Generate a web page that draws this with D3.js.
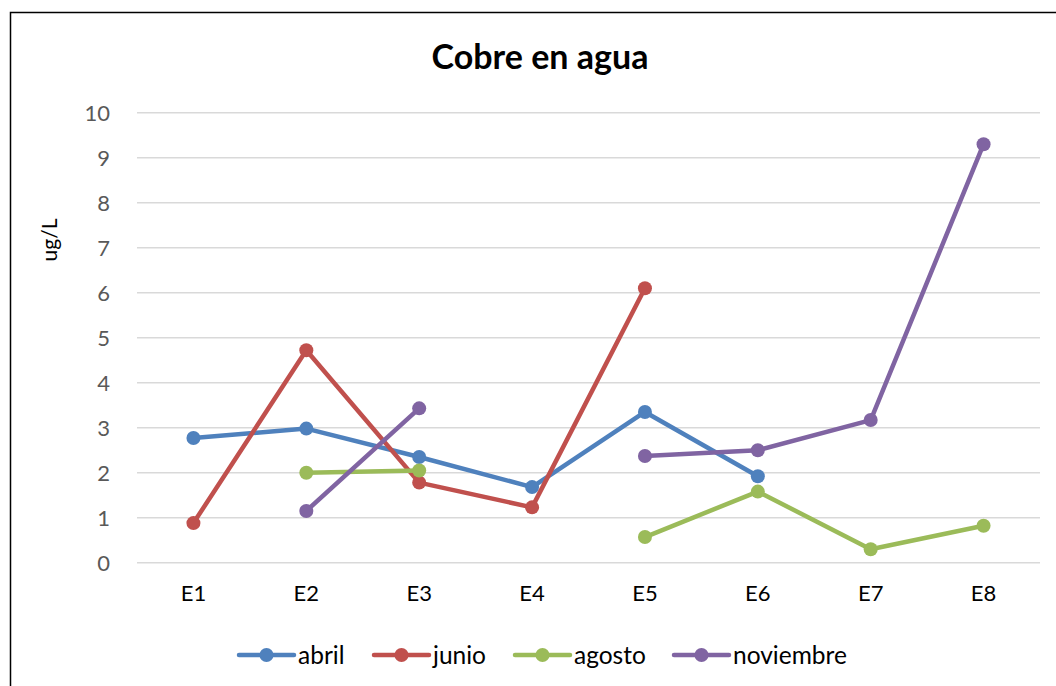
<!DOCTYPE html>
<html>
<head>
<meta charset="utf-8">
<script src="https://cdn.jsdelivr.net/npm/d3@7"></script>
<style>
  body { margin: 0; background: #fff; }
  text { font-family: Lato, "Open Sans", sans-serif; }
</style>
</head>
<body>
<div id="chart"></div>
<script>
var stations = ["E1", "E2", "E3", "E4", "E5", "E6", "E7", "E8"];
var seriesNames = ["abril", "junio", "agosto", "noviembre"];
var abril = [2.77, 2.98, 2.35, 1.68, 3.35, 1.92, null, null];
var junio = [0.88, 4.72, 1.78, 1.23, 6.1, null, null, null];
var agosto = [null, 2.0, 2.05, null, 0.57, 1.58, 0.3, 0.82];
var noviembre = [null, 1.15, 3.43, null, 2.37, 2.5, 3.17, 9.3];
var yTicks = [0, 1, 2, 3, 4, 5, 6, 7, 8, 9, 10];
var colors = ["#4F81BD", "#C0504D", "#9BBB59", "#8064A2"];

var series = [abril, junio, agosto, noviembre];

var svgWidth = 1056;
var svgHeight = 686;

var svg = d3.select("#chart")
    .append("svg")
    .attr("width", svgWidth)
    .attr("height", svgHeight);

// outer frame (runs off the right and bottom edges)
svg.append("rect")
    .attr("x", 10.5)
    .attr("y", 12.5)
    .attr("width", 1100)
    .attr("height", 700)
    .attr("fill", "#fff")
    .attr("stroke", "#000")
    .attr("stroke-width", 1.5);

var xScale = d3.scaleBand()
    .domain(stations)
    .range([137, 1040]);

var yScale = d3.scaleLinear()
    .domain([0, 10])
    .range([562.7, 112.7]);

// gridlines
svg.append("g")
    .selectAll("line")
    .data(yTicks)
    .enter()
    .append("line")
    .attr("x1", 137)
    .attr("x2", 1040)
    .attr("y1", d => yScale(d))
    .attr("y2", d => yScale(d))
    .attr("stroke", "#D9D9D9")
    .attr("stroke-width", 1.5);

var leftAxis = d3.axisLeft(yScale).tickValues(yTicks).tickSize(0).tickPadding(0);
var yAxis = svg.append("g")
    .attr("transform", "translate(110, 0)")
    .call(leftAxis);
yAxis.select(".domain").remove();
yAxis.selectAll("text")
    .attr("fill", "#595959")
    .attr("dy", "0.35em")
    .style("font-size", "22px")
    .style("font-family", "Lato, sans-serif");

var bottomAxis = d3.axisBottom(xScale).tickSize(0).tickPadding(0);
var xAxis = svg.append("g")
    .attr("transform", "translate(0, 585)")
    .call(bottomAxis);
xAxis.select(".domain").remove();
xAxis.selectAll("text")
    .attr("fill", "#000")
    .style("font-size", "22px")
    .style("font-family", "Lato, sans-serif");

// y label
svg.append("text")
    .attr("transform", "translate(57, 240) rotate(-90)")
    .attr("text-anchor", "middle")
    .style("font-size", "21px")
    .text("ug/L");

// title
svg.append("text")
    .attr("x", 540)
    .attr("y", 69)
    .attr("text-anchor", "middle")
    .style("font-size", "34px")
    .style("font-weight", "bold")
    .text("Cobre en agua");

var line = d3.line()
    .defined(d => d != null)
    .x((d, i) => xScale(stations[i]) + xScale.bandwidth() / 2)
    .y(d => yScale(d));

series.forEach(function (vals, s) {
    var g = svg.append("g");
    g.append("path")
        .datum(vals)
        .attr("d", line)
        .attr("fill", "none")
        .attr("stroke", colors[s])
        .attr("stroke-width", 4.5)
        .attr("stroke-linejoin", "round")
        .attr("stroke-linecap", "round");
    g.selectAll("circle")
        .data(vals.map((v, i) => ({ v: v, i: i })).filter(d => d.v != null))
        .enter()
        .append("circle")
        .attr("cx", d => xScale(stations[d.i]) + xScale.bandwidth() / 2)
        .attr("cy", d => yScale(d.v))
        .attr("r", 7)
        .attr("fill", colors[s]);
});

// legend
var legendX = [239, 374, 515, 674];
var legend = svg.append("g")
    .attr("transform", "translate(0, 655)");
seriesNames.forEach(function (name, s) {
    var item = legend.append("g")
        .attr("transform", `translate(${legendX[s]}, 0)`);
    item.append("line")
        .attr("x1", 0)
        .attr("x2", 55)
        .attr("stroke", colors[s])
        .attr("stroke-width", 4.5)
        .attr("stroke-linecap", "round");
    item.append("circle")
        .attr("cx", 27.5)
        .attr("r", 7)
        .attr("fill", colors[s]);
    item.append("text")
        .attr("x", 59)
        .attr("dy", "0.35em")
        .style("font-size", "24.5px")
        .text(name);
});
</script>
</body>
</html>
